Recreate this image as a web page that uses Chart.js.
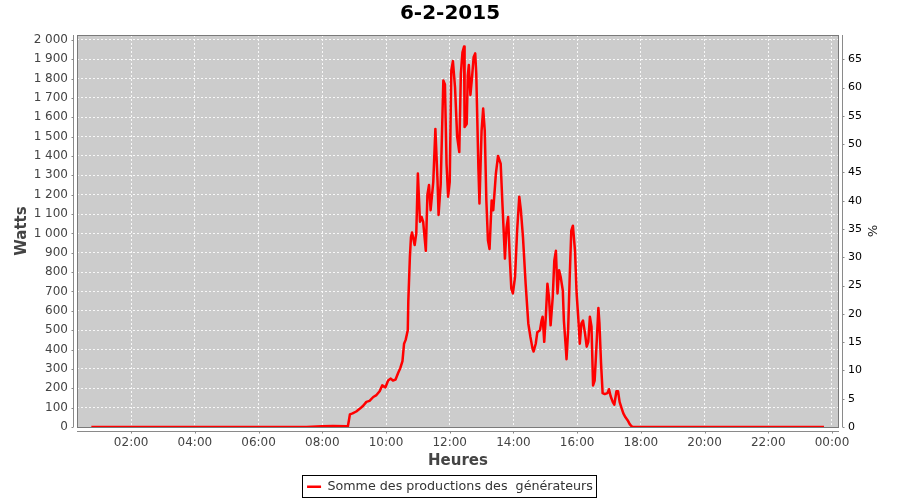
<!DOCTYPE html>
<html>
<head>
<meta charset="utf-8">
<script src="https://cdn.jsdelivr.net/npm/chart.js@4"></script>
<style>
  html,body{margin:0;padding:0;background:#fff;}
  #wrap{width:900px;height:500px;}
</style>
</head>
<body>
<div id="wrap"><canvas id="prodChart" width="900" height="500"></canvas></div>
<script>
const chartTitle = '6-2-2015';
const seriesLabel = 'Somme des productions des  générateurs';

// heures de mesure et puissance (W)
const times = [
  '00:45','01:30','02:30','03:30','04:30','05:30','06:30','07:30','08:00','08:20','08:45','08:48',
  '08:52','08:57','09:04','09:11','09:17','09:23','09:29','09:36','09:42','09:48','09:53','09:59',
  '10:04','10:09','10:13','10:18','10:23','10:27','10:31','10:34','10:37','10:41','10:42','10:45',
  '10:47','10:49','10:54','10:57','11:00','11:04','11:07','11:10','11:15','11:18','11:21','11:24',
  '11:29','11:33','11:37','11:39','11:43','11:48','11:51','11:54','11:57','12:00','12:03','12:06',
  '12:10','12:14','12:18','12:21','12:24','12:27','12:28','12:32','12:34','12:36','12:39','12:42',
  '12:45','12:48','12:50','12:54','12:56','13:00','13:03','13:06','13:09','13:12','13:15','13:19',
  '13:22','13:27','13:31','13:36','13:39','13:44','13:47','13:50','13:53','13:56','13:59','14:03',
  '14:07','14:11','14:14','14:18','14:23','14:28','14:32','14:36','14:38','14:42','14:45','14:50',
  '14:53','14:55','14:58','15:01','15:04','15:07','15:10','15:14','15:17','15:20','15:23','15:26',
  '15:29','15:33','15:35','15:39','15:40','15:43','15:46','15:49','15:52','15:56','15:59','16:02',
  '16:05','16:08','16:11','16:15','16:18','16:21','16:24','16:27','16:30','16:33','16:37','16:40',
  '16:42','16:45','16:48','16:52','16:57','17:00','17:03','17:07','17:10','17:14','17:17','17:20',
  '17:24','17:27','17:31','17:35','17:39','17:42','17:45','18:30','19:30','20:30','21:30','22:30',
  '23:45'
];
const watts = [
  0,0,0,0,0,0,0,0,4,5,4,0,
  65,70,80,95,110,130,135,155,165,185,215,205,
  240,250,240,245,280,305,340,430,450,500,650,880,
  980,1005,940,1000,1310,1060,1085,1060,910,1200,1250,1120,
  1265,1540,1275,1095,1255,1790,1770,1360,1190,1265,1840,1890,
  1755,1500,1420,1825,1935,1965,1550,1565,1815,1870,1715,1805,
  1910,1930,1825,1340,1155,1530,1645,1530,1170,965,920,1170,
  1120,1310,1400,1360,1170,870,1030,1085,880,715,690,775,
  1015,1190,1120,980,740,535,465,405,390,430,490,500,
  550,570,440,570,740,670,525,670,860,910,690,810,
  775,705,550,395,350,500,775,1015,1040,910,690,570,
  430,535,550,480,415,440,570,520,215,240,450,615,
  535,330,175,170,175,195,160,130,115,185,185,130,
  95,70,50,35,15,5,0,0,0,0,0,0,
  0
];

const wattTicksStep = 100;
const pctTicksStep = 5;
const hourTicksStep = 2;

function toHours(s){
  const [h,m] = s.split(':').map(Number);
  return h + m/60;
}
function fmtWatts(v){
  if(v >= 1000){
    const r = String(v % 1000).padStart(3,'0');
    return Math.floor(v/1000) + ' ' + r;
  }
  return String(v);
}
function fmtHour(v){
  const h = Math.round(v) % 24;
  return String(h).padStart(2,'0') + ':00';
}

const points = times.map((t,i)=>({x: toHours(t), y: watts[i]}));

const frame = {
  id: 'frame',
  beforeDraw(chart){
    const {ctx, chartArea:a} = chart;
    ctx.save();
    ctx.fillStyle = '#cccccc';
    ctx.fillRect(a.left, a.top, a.right - a.left, a.bottom - a.top);
    ctx.restore();
  },
  beforeDatasetsDraw(chart){
    const {ctx, chartArea:a, scales} = chart;
    ctx.save();
    ctx.strokeStyle = '#7a7a7a';
    ctx.lineWidth = 1;
    ctx.strokeRect(a.left + 0.5, a.top + 0.5, a.right - a.left - 1, a.bottom - a.top);
    // axes lines, decalees comme dans l'original
    ctx.strokeStyle = '#8a8a8a';
    ctx.beginPath();
    const lx = a.left - 3.5, rx = a.right + 3.5, by = Math.round(a.bottom) + 4.5;
    ctx.moveTo(lx, a.top); ctx.lineTo(lx, a.bottom);
    ctx.moveTo(rx, a.top); ctx.lineTo(rx, a.bottom);
    ctx.moveTo(a.left, by); ctx.lineTo(a.right, by);
    scales.y.ticks.forEach(t=>{
      const y = Math.round(scales.y.getPixelForValue(t.value)) + 0.5;
      ctx.moveTo(lx - 2, y); ctx.lineTo(lx, y);
    });
    scales.y1.ticks.forEach(t=>{
      const y = Math.round(scales.y1.getPixelForValue(t.value)) + 0.5;
      ctx.moveTo(rx, y); ctx.lineTo(rx + 2, y);
    });
    scales.x.ticks.forEach(t=>{
      const x = Math.round(scales.x.getPixelForValue(t.value)) + 0.5;
      ctx.moveTo(x, by); ctx.lineTo(x, by + 2);
    });
    ctx.stroke();
    ctx.restore();
  },
  afterDraw(chart){
    const lg = chart.legend;
    if(!lg || !lg.legendHitBoxes.length) return;
    const b = lg.legendHitBoxes[0];
    const ctx = chart.ctx;
    ctx.save();
    ctx.strokeStyle = '#000';
    ctx.lineWidth = 1;
    ctx.strokeRect(Math.round(b.left) - 4.5, Math.round(b.top) - 4.5, Math.round(b.width) + 8, 22);
    ctx.restore();
  }
};

const ctx = document.getElementById('prodChart').getContext('2d');
new Chart(ctx, {
  type: 'line',
  data: {
    datasets: [{
      label: seriesLabel,
      data: points,
      borderColor: '#ff0000',
      backgroundColor: '#ff0000',
      borderWidth: 2.5,
      pointRadius: 0,
      pointStyle: 'line',
      tension: 0,
      borderJoinStyle: 'round',
      fill: false,
      yAxisID: 'y'
    }]
  },
  options: {
    responsive: false,
    devicePixelRatio: 1,
    animation: false,
    layout: { padding: { top: 0, left: 0, right: 0, bottom: -3 } },
    plugins: {
      title: {
        display: true, text: chartTitle, color: '#000',
        font: { family: 'DejaVu Sans', size: 20, weight: 'bold' },
        padding: { top: 2, bottom: 9 }
      },
      legend: {
        position: 'bottom',
        labels: {
          usePointStyle: true, pointStyle: 'line', pointStyleWidth: 14,
          color: '#333', padding: 10,
          font: { family: 'DejaVu Sans', size: 12.7 }
        }
      },
      tooltip: { enabled: false }
    },
    scales: {
      x: {
        type: 'linear', position: 'bottom',
        min: 0.3, max: 24.22,
        ticks: {
          stepSize: hourTicksStep, includeBounds: false, maxRotation: 0, autoSkip: false,
          color: '#444', font: { family: 'DejaVu Sans', size: 12 }, padding: 9,
          callback: v => fmtHour(v)
        },
        grid: { color: 'rgba(255,255,255,0.85)', lineWidth: 1, drawTicks: false },
        border: { display: false, dash: [2,2] },
        title: { display: true, text: 'Heures', color: '#444', font: { family: 'DejaVu Sans', size: 15, weight: 'bold' }, padding: { top: 1, bottom: 0 } },
        afterFit: s => { s.height = 43.3; }
      },
      y: {
        position: 'left',
        min: 0, max: 2025,
        ticks: {
          stepSize: wattTicksStep, includeBounds: false, autoSkip: false,
          color: '#444', font: { family: 'DejaVu Sans', size: 12 }, padding: 9,
          callback: v => fmtWatts(v)
        },
        grid: { color: 'rgba(255,255,255,0.85)', lineWidth: 1, drawTicks: false },
        border: { display: false, dash: [2,2] },
        title: { display: true, text: 'Watts', color: '#444', font: { family: 'DejaVu Sans', size: 15, weight: 'bold' }, padding: { top: 13, bottom: 0 } },
        afterFit: s => { s.width = 77; }
      },
      y1: {
        position: 'right',
        min: 0, max: 69.3,
        ticks: {
          stepSize: pctTicksStep, includeBounds: false, autoSkip: false,
          color: '#000', font: { family: 'DejaVu Sans', size: 11 }, padding: 9
        },
        grid: { drawOnChartArea: false, drawTicks: false },
        border: { display: false },
        title: { display: true, text: '%', color: '#222', font: { family: 'DejaVu Sans', size: 13 }, padding: { top: 21, bottom: 0 } },
        afterFit: s => { s.width = 61; }
      }
    }
  },
  plugins: [frame]
});
</script>
</body>
</html>
